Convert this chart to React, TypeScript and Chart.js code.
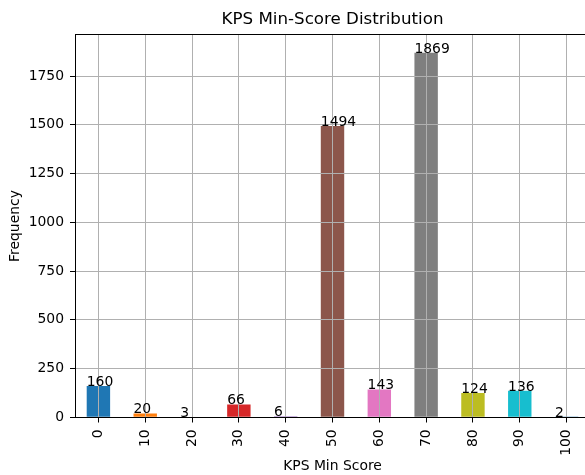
import React, { useEffect, useRef } from 'react';
import { Chart, registerables } from 'chart.js';

Chart.register(...registerables);

const categories = ['0', '10', '20', '30', '40', '50', '60', '70', '80', '90', '100'];
const frequencies = [160, 20, 3, 66, 6, 1494, 143, 1869, 124, 136, 2];
const barColors = [
  '#1f77b4', '#ff7f0e', '#2ca02c', '#d62728', '#9467bd',
  '#8c564b', '#e377c2', '#7f7f7f', '#bcbd22', '#17becf', '#1f77b4',
];
const yTickValues = [0, 250, 500, 750, 1000, 1250, 1500, 1750];
const yAxisMax = 1962;

const FONT = "'DejaVu Sans', sans-serif";

const overlayPlugin = {
  id: 'overlay',
  afterDatasetsDraw(chart: any) {
    const { ctx, chartArea } = chart;
    ctx.save();
    chart.scales.x.drawGrid(chartArea);
    chart.scales.y.drawGrid(chartArea);
    chart.scales.x.drawBorder();
    chart.scales.y.drawBorder();
    chart.scales.x2.drawBorder();
    const meta = chart.getDatasetMeta(0);
    ctx.fillStyle = '#000';
    ctx.font = `13.9px ${FONT}`;
    ctx.textAlign = 'left';
    ctx.textBaseline = 'alphabetic';
    meta.data.forEach((bar: any, i: number) => {
      const left = bar.x - bar.width / 2;
      ctx.fillText(String(frequencies[i]), left, bar.y);
    });
    ctx.restore();
  },
};

export default function App() {
  const ref = useRef<HTMLCanvasElement>(null);
  useEffect(() => {
    const chart = new Chart(ref.current as HTMLCanvasElement, {
      type: 'bar',
      data: {
        labels: categories,
        datasets: [
          {
            data: frequencies,
            backgroundColor: barColors,
            barPercentage: 0.5,
            categoryPercentage: 1,
            borderWidth: 0,
            xAxisID: 'x',
            yAxisID: 'y',
          },
        ],
      },
      options: {
        responsive: false,
        animation: false,
        devicePixelRatio: 1,
        layout: { padding: { left: 0, right: 10, top: 0, bottom: 0 } },
        plugins: {
          legend: { display: false },
          tooltip: { enabled: false },
          title: {
            display: true,
            text: 'KPS Min-Score Distribution',
            color: '#000',
            fullSize: false,
            font: { family: FONT, size: 16.7, weight: 'normal', lineHeight: 1.2 },
            padding: { top: 10, bottom: 4.7 },
          },
        },
        scales: {
          x: {
            type: 'category',
            position: 'bottom',
            offset: true,
            grid: { offset: false, color: '#b0b0b0', lineWidth: 1, tickColor: '#000', tickLength: 5 },
            border: { color: '#000', width: 1 },
            ticks: {
              color: '#000',
              font: { family: FONT, size: 13.9 },
              minRotation: 90,
              maxRotation: 90,
              padding: 7,
              autoSkip: false,
            },
            title: {
              display: true,
              text: 'KPS Min Score',
              color: '#000',
              font: { family: FONT, size: 13.9, lineHeight: 1.2 },
              padding: { top: 0, bottom: 0 },
            },
            afterFit: (s: any) => {
              s.height = 57.7;
            },
          },
          x2: {
            type: 'category',
            position: 'top',
            offset: true,
            grid: { display: true, drawOnChartArea: false, drawTicks: false },
            border: { display: true, color: '#000', width: 1 },
            ticks: { display: false },
            afterFit: (s: any) => {
              s.height = 0;
            },
          },
          y: {
            min: 0,
            max: yAxisMax,
            grid: { color: '#b0b0b0', lineWidth: 1, tickColor: '#000', tickLength: 5 },
            border: { color: '#000', width: 1 },
            ticks: {
              autoSkip: false,
              color: '#000',
              font: { family: FONT, size: 13.9 },
              padding: 6,
              callback: (v: any) => String(v),
            },
            afterBuildTicks: (s: any) => {
              s.ticks = yTickValues.map((v) => ({ value: v }));
            },
            title: {
              display: true,
              text: 'Frequency',
              color: '#000',
              font: { family: FONT, size: 13.9, lineHeight: 1.2 },
              padding: { top: 7, bottom: 0 },
            },
            afterFit: (s: any) => {
              s.width = 75;
            },
          },
        },
      } as any,
      plugins: [overlayPlugin],
    });
    return () => chart.destroy();
  }, []);

  return (
    <div
      style={{
        position: 'fixed',
        left: 0,
        top: 0,
        width: 585,
        height: 475,
        overflow: 'hidden',
        background: '#fff',
      }}
    >
      <canvas ref={ref} width={600} height={475} style={{ display: 'block' }} />
    </div>
  );
}
